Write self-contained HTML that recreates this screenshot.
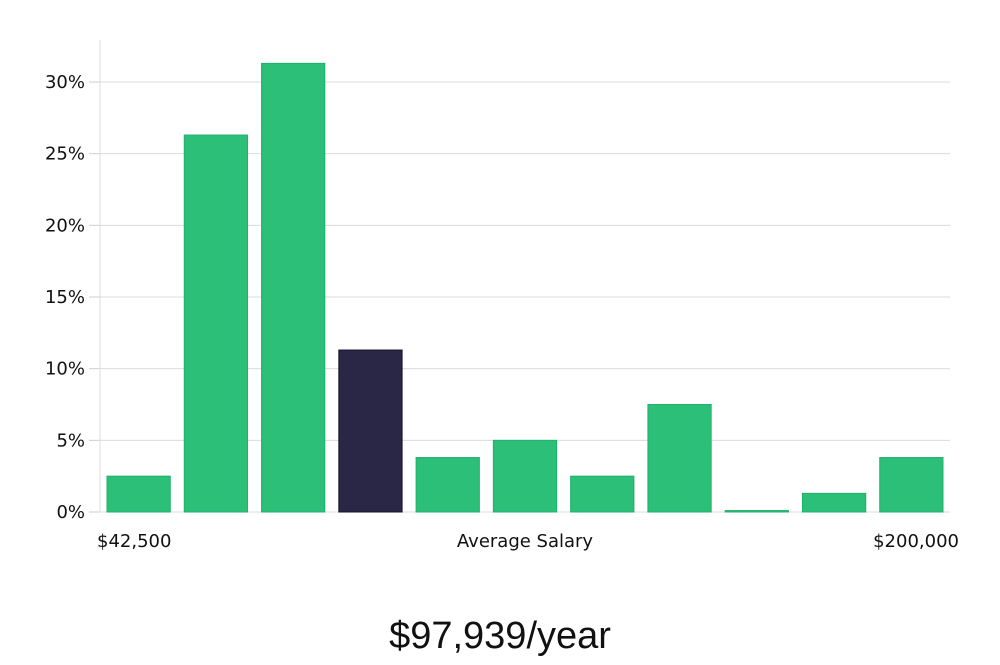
<!DOCTYPE html>
<html><head><meta charset="utf-8"><style>
body{margin:0;background:#fff;width:1000px;height:660px;overflow:hidden}
svg text{font-family:"DejaVu Sans","Liberation Sans",sans-serif;fill:#111}
</style></head><body>
<svg id="chart" width="1000" height="660" xmlns="http://www.w3.org/2000/svg"></svg>
<script>
const categories=["b1","b2","b3","b4","b5","b6","b7","b8","b9","b10","b11"];
const values=[2.5,26.3,31.3,11.3,3.8,5.0,2.5,7.5,0.1,1.3,3.8];
const highlight=[false,false,false,true,false,false,false,false,false,false,false];
const yTicks=[0,5,10,15,20,25,30];
const yTickLabels=["0%","5%","10%","15%","20%","25%","30%"];
const NS="http://www.w3.org/2000/svg";
const svg=document.getElementById('chart');
const L=100,R=950,B=512,T=40;
const y=v=>B-v*(430/30);
const slot=(R-L)/categories.length;
const x=i=>L+i*slot+7;
function mk(t,a){const e=document.createElementNS(NS,t);for(const k in a)e.setAttribute(k,a[k]);svg.appendChild(e);return e;}
yTicks.forEach((t,i)=>{
  const g=mk('line',{x1:L,x2:R,y1:y(t),y2:y(t),stroke:'#dcdcdc','stroke-width':1});
  
  
  const tk=mk('line',{x1:89,x2:L,y1:y(t),y2:y(t),stroke:'#cfcfcf','stroke-width':1});
  
  
  const tx=mk('text',{x:85,y:y(t)+6,'text-anchor':'end','font-size':18});
  tx.textContent=yTickLabels[i];
  
  
});
const ax=mk('line',{x1:L,x2:L,y1:T,y2:B,stroke:'#dcdcdc','stroke-width':1});


values.forEach((v,i)=>{
  const h=Math.max(1,B-y(v));
  const r=mk('rect',{x:x(i),y:B-h,width:slot-14,height:h,fill:highlight[i]?'#2a2646':'#2bbf78',stroke:highlight[i]?'#16142a':'#22b070','stroke-width':1});
  
  
});
function label(txt,xx,yy,anchor,size,name,weight){const t=mk('text',{x:xx,y:yy,'text-anchor':anchor,'font-size':size});if(weight)t.setAttribute('style','font-weight:'+weight+';font-family:"Liberation Sans",sans-serif');t.textContent=txt;return t;}
label("$42,500",97,547,'start',18,'x-min-label');
label("Average Salary",525,547,'middle',18,'x-axis-title');
label("$200,000",959,547,'end',18,'x-max-label');
label("$97,939/year",500,648,'middle',38,'average-salary-title',300);
</script>
</body></html>
